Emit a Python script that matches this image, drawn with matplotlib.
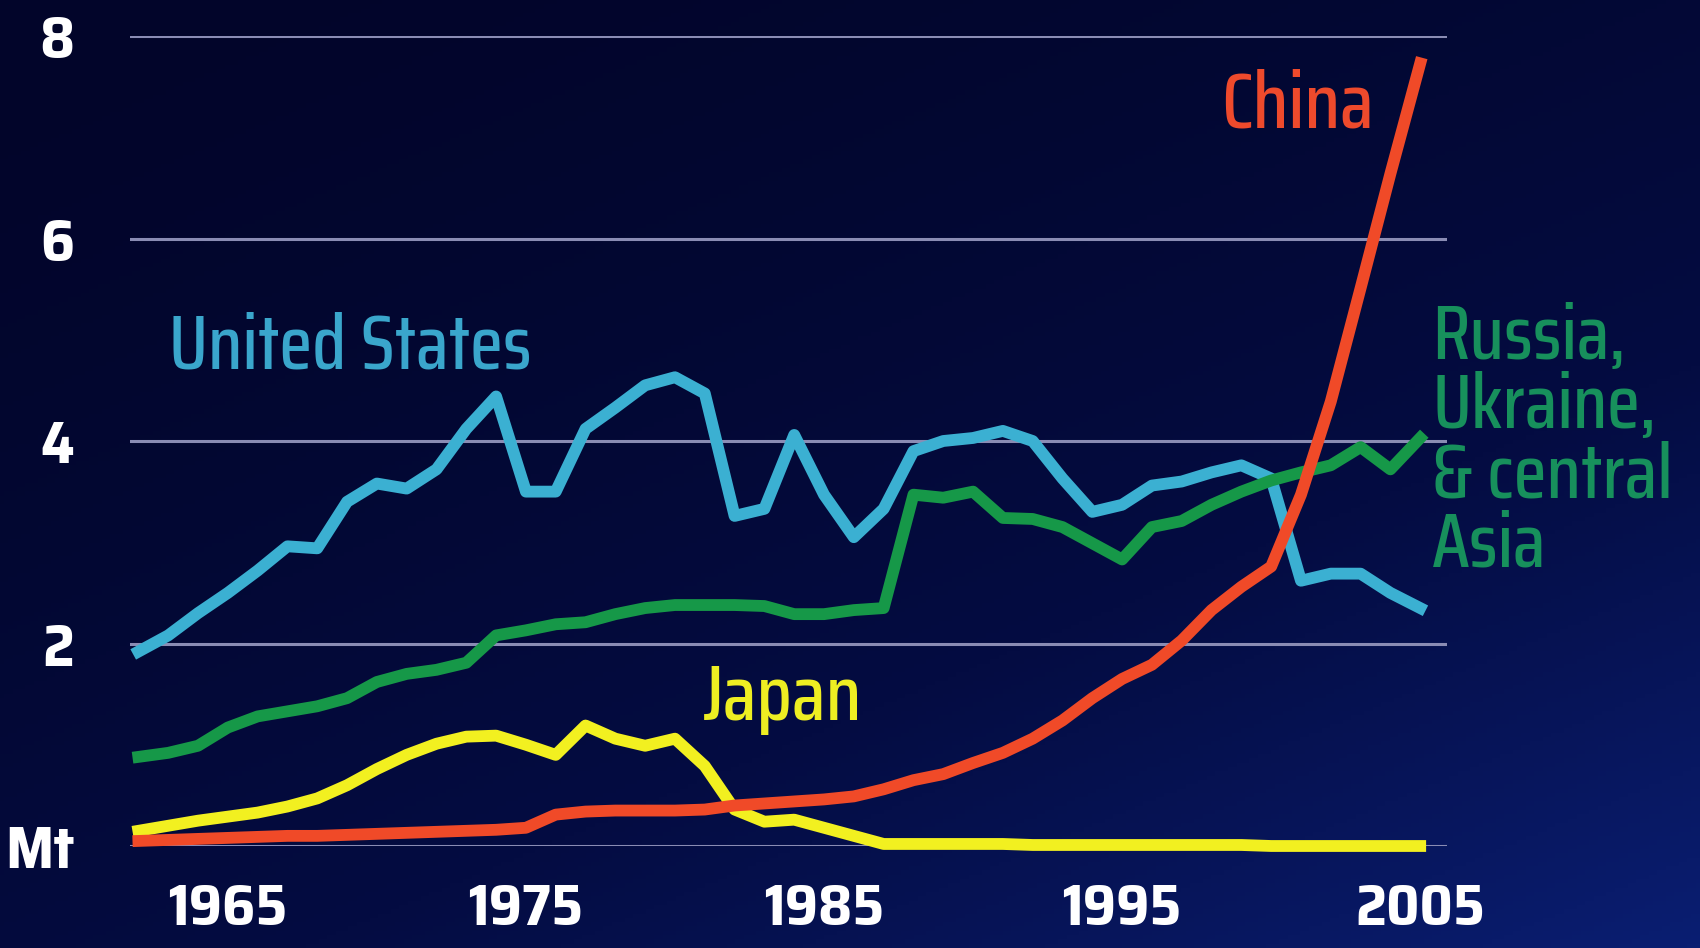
import numpy as np
import matplotlib.pyplot as plt
from matplotlib.colors import LinearSegmentedColormap

# %%
# Data (Mt per year)
years = list(range(1962, 2006))

united_states = [1.92, 2.08, 2.30, 2.50, 2.72, 2.96, 2.94, 3.40, 3.58, 3.53,
                 3.72, 4.12, 4.44, 3.50, 3.50, 4.12, 4.33, 4.55, 4.63, 4.47,
                 3.26, 3.33, 4.06, 3.47, 3.05, 3.33, 3.90, 4.00, 4.03, 4.10,
                 4.00, 3.63, 3.30, 3.37, 3.56, 3.60, 3.69, 3.76, 3.63, 2.62,
                 2.69, 2.69, 2.50, 2.35]

russia = [0.88, 0.92, 0.99, 1.17, 1.28, 1.33, 1.38, 1.46, 1.62, 1.70,
          1.74, 1.81, 2.08, 2.13, 2.19, 2.21, 2.29, 2.35, 2.38, 2.38,
          2.38, 2.37, 2.29, 2.29, 2.33, 2.35, 3.47, 3.44, 3.50, 3.24,
          3.23, 3.15, 2.99, 2.83, 3.15, 3.21, 3.37, 3.50, 3.61, 3.69,
          3.76, 3.94, 3.72, 4.03]

china = [0.05, 0.06, 0.07, 0.08, 0.09, 0.10, 0.10, 0.11, 0.12, 0.13,
         0.14, 0.15, 0.16, 0.18, 0.31, 0.34, 0.35, 0.35, 0.35, 0.36,
         0.40, 0.42, 0.44, 0.46, 0.49, 0.56, 0.65, 0.71, 0.82, 0.92,
         1.06, 1.24, 1.46, 1.65, 1.79, 2.03, 2.33, 2.56, 2.76, 3.47,
         4.39, 5.51, 6.64, 7.73]

japan = [0.15, 0.20, 0.25, 0.29, 0.33, 0.39, 0.47, 0.60, 0.76, 0.90,
         1.01, 1.08, 1.09, 1.00, 0.90, 1.19, 1.06, 0.99, 1.06, 0.79,
         0.36, 0.24, 0.26, 0.18, 0.10, 0.02, 0.02, 0.02, 0.02, 0.02,
         0.01, 0.01, 0.01, 0.01, 0.01, 0.01, 0.01, 0.01, 0.00, 0.00,
         0.00, 0.00, 0.00, 0.00]

y_ticks = [0, 2, 4, 6, 8]
y_labels = ['Mt', '2', '4', '6', '8']
x_ticks = [1965, 1975, 1985, 1995, 2005]

FAMILY = ['Saira Condensed', 'DejaVu Sans']
TICK_FAMILY = ['Saira SemiCondensed', 'Saira Condensed', 'DejaVu Sans']

# %%
fig = plt.figure(figsize=(17, 9.48), dpi=100)

# background gradient: dark navy at the top, bluer toward bottom-right
bg = fig.add_axes([0, 0, 1, 1], zorder=0)
gx, gy = np.meshgrid(np.linspace(0, 1, 400), np.linspace(0, 1, 220))
grad = np.clip(0.45 * gx + 0.6 * gy, 0, 1.05) / 1.05
grad = grad ** 1.6
cmap = LinearSegmentedColormap.from_list('bg', ['#02052a', '#040c42', '#0a1e72'])
bg.imshow(grad, cmap=cmap, aspect='auto', extent=[0, 1, 0, 1], origin='upper')
bg.axis('off')

ax = fig.add_axes([0.0765, 0.1076, 0.7747, 0.8544], zorder=1)
ax.patch.set_alpha(0)
for s in ax.spines.values():
    s.set_visible(False)

for t in y_ticks:
    ax.axhline(t, color='#8a8cb4', lw=2.2, zorder=1)

lw = 8.5
ax.plot(years, united_states, color='#3bb0d2', lw=lw, zorder=3, clip_on=False)
ax.plot(years, russia, color='#169848', lw=lw, zorder=3, clip_on=False)
ax.plot(years, japan, color='#f2f020', lw=lw, zorder=2, clip_on=False)
ax.plot(years, china, color='#f04a28', lw=lw, zorder=4, clip_on=False)

ax.set_xlim(1961.72, 2005.9)
ax.set_ylim(0, 8)

ax.set_yticks(y_ticks)
ax.set_yticklabels(y_labels, color='white', fontsize=43, family=TICK_FAMILY, fontweight='bold')
ax.set_xticks(x_ticks)
ax.set_xticklabels([str(x) for x in x_ticks], color='white', fontsize=42, family=TICK_FAMILY,
                   fontweight='bold')
ax.tick_params(axis='x', length=0, pad=26)
ax.tick_params(axis='y', length=0, pad=40)

lab = dict(family=FAMILY, fontweight='medium', fontsize=57)
ax.text(1969.1, 4.92, 'United States', color='#3aa6cc', ha='center', va='center',
        **dict(lab, fontsize=55))
ax.text(2000.9, 7.31, 'China', color='#ee4a2c', ha='center', va='center', **lab)
ax.text(1983.6, 1.46, 'Japan', color='#eeee22', ha='center', va='center', **lab)
ax.text(2005.4, 3.99, 'Russia,\nUkraine,\n& central\nAsia', color='#17905c',
        ha='left', va='center', linespacing=0.95, **dict(lab, fontsize=55))

fig.savefig('out.png', dpi=100)
